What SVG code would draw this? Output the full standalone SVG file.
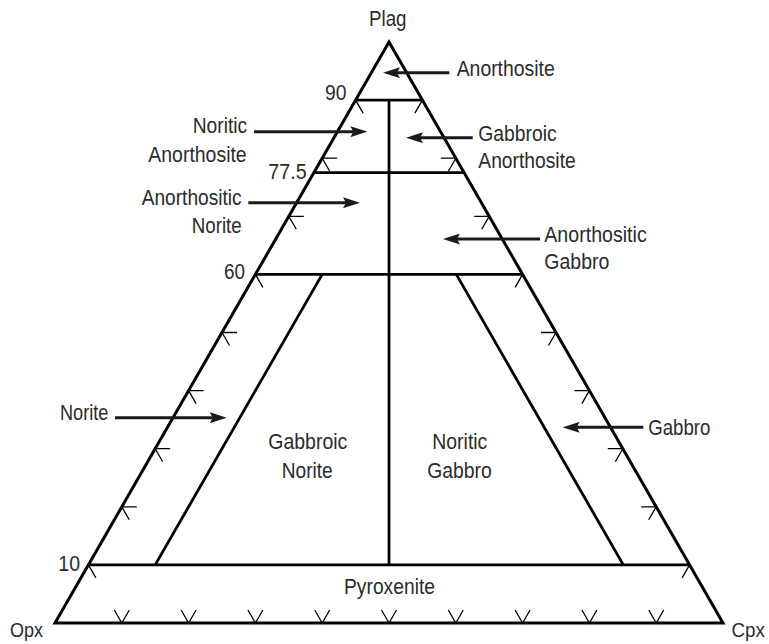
<svg xmlns="http://www.w3.org/2000/svg" width="769" height="644" viewBox="0 0 769 644">
<style>
.edge{fill:none;stroke:#000;stroke-width:3;stroke-linejoin:miter}
.bnd{fill:none;stroke:#000;stroke-width:2.8}
.tick{fill:none;stroke:#000;stroke-width:1.3}
.arr{fill:none;stroke:#1a1a1a;stroke-width:3}
text{font-family:"Liberation Sans",Arial,sans-serif;font-size:22px;fill:#2b2b2b}
.corner{font-size:21px}
</style>
<defs>
<marker id="ah" markerUnits="userSpaceOnUse" viewBox="0 0 17 11" markerWidth="17" markerHeight="11" refX="3" refY="5.5" orient="auto">
<path d="M0,0 L17,5.5 L0,11 L3,5.5 z" fill="#1a1a1a"/>
</marker>
</defs>
<rect width="769" height="644" fill="#fff"/>
<g id="triangle">
<path class="edge" d="M389,42 L723,623 L55,623 Z"/>
</g>
<g id="boundaries">
<line class="bnd" x1="355.6" y1="100.1" x2="422.4" y2="100.1"/>
<line class="bnd" x1="313.9" y1="172.7" x2="464.1" y2="172.7"/>
<line class="bnd" x1="255.4" y1="274.4" x2="522.6" y2="274.4"/>
<line class="bnd" x1="88.4" y1="564.9" x2="689.6" y2="564.9"/>
<line class="bnd" x1="389" y1="100.1" x2="389" y2="564.9"/>
<line class="bnd" x1="322.2" y1="274.4" x2="155.2" y2="564.9"/>
<line class="bnd" x1="456.3" y1="274.4" x2="623.3" y2="564.9"/>
</g>
<g id="ticks">
<path class="tick" d="M103.4,564.9 L88.4,564.9 L95.9,577.9 M136.8,506.8 L121.8,506.8 L129.3,519.8 M170.2,448.7 L155.2,448.7 L162.7,461.7 M203.6,390.6 L188.6,390.6 L196.1,403.6 M237,332.5 L222,332.5 L229.5,345.5 M270.4,274.4 L255.4,274.4 L262.9,287.4 M303.8,216.3 L288.8,216.3 L296.3,229.3 M337.2,158.2 L322.2,158.2 L329.7,171.2 M370.6,100.1 L355.6,100.1 L363.1,113.1"/>
<path class="tick" d="M674.6,564.9 L689.6,564.9 L682.1,577.9 M641.2,506.8 L656.2,506.8 L648.7,519.8 M607.8,448.7 L622.8,448.7 L615.3,461.7 M574.4,390.6 L589.4,390.6 L581.9,403.6 M541,332.5 L556,332.5 L548.5,345.5 M507.6,274.4 L522.6,274.4 L515.1,287.4 M474.2,216.3 L489.2,216.3 L481.7,229.3 M440.8,158.2 L455.8,158.2 L448.3,171.2 M407.4,100.1 L422.4,100.1 L414.9,113.1"/>
<path class="tick" d="M114.3,610 L121.8,623 L129.3,610 M181.1,610 L188.6,623 L196.1,610 M247.9,610 L255.4,623 L262.9,610 M314.7,610 L322.2,623 L329.7,610 M381.5,610 L389,623 L396.5,610 M448.3,610 L455.8,623 L463.3,610 M515.1,610 L522.6,623 L530.1,610 M581.9,610 L589.4,623 L596.9,610 M648.7,610 L656.2,623 L663.7,610"/>
</g>
<g id="connectors">
<path class="arr" d="M449.3,72.7 L397,72.7" marker-end="url(#ah)"/>
<path class="arr" d="M254,131.7 L353.3,131.7" marker-end="url(#ah)"/>
<path class="arr" d="M472.7,137.7 L420,137.7" marker-end="url(#ah)"/>
<path class="arr" d="M248.3,202.7 L346,202.7" marker-end="url(#ah)"/>
<path class="arr" d="M540,239 L457,239" marker-end="url(#ah)"/>
<path class="arr" d="M115,417.7 L212.7,417.7" marker-end="url(#ah)"/>
<path class="arr" d="M643.3,427.3 L576.7,427.3" marker-end="url(#ah)"/>
</g>
<g id="axis-labels">
<text x="369" y="26" textLength="37.5" lengthAdjust="spacingAndGlyphs">Plag</text>
<text class="corner" x="10" y="636.5" textLength="33" lengthAdjust="spacingAndGlyphs">Opx</text>
<text class="corner" x="731.5" y="636.5" textLength="33.4" lengthAdjust="spacingAndGlyphs">Cpx</text>
<text x="325" y="99.5" textLength="21.5" lengthAdjust="spacingAndGlyphs">90</text>
<text x="268.3" y="179" textLength="38.4" lengthAdjust="spacingAndGlyphs">77.5</text>
<text x="224" y="279.3" textLength="21" lengthAdjust="spacingAndGlyphs">60</text>
<text x="58.3" y="570.7" textLength="21.7" lengthAdjust="spacingAndGlyphs">10</text>
</g>
<g id="node-anorthosite">
<text x="456.7" y="76" textLength="98" lengthAdjust="spacingAndGlyphs">Anorthosite</text>
</g>
<g id="node-noritic-anorthosite">
<text x="192.7" y="132.5" textLength="54.5" lengthAdjust="spacingAndGlyphs">Noritic</text>
<text x="148.3" y="161.5" textLength="98.4" lengthAdjust="spacingAndGlyphs">Anorthosite</text>
</g>
<g id="node-gabbroic-anorthosite">
<text x="478.3" y="140.5" textLength="78.4" lengthAdjust="spacingAndGlyphs">Gabbroic</text>
<text x="478.3" y="168.3" textLength="97.4" lengthAdjust="spacingAndGlyphs">Anorthosite</text>
</g>
<g id="node-anorthositic-norite">
<text x="141.7" y="205" textLength="100" lengthAdjust="spacingAndGlyphs">Anorthositic</text>
<text x="191.7" y="232.5" textLength="50" lengthAdjust="spacingAndGlyphs">Norite</text>
</g>
<g id="node-anorthositic-gabbro">
<text x="544.3" y="242.3" textLength="102.4" lengthAdjust="spacingAndGlyphs">Anorthositic</text>
<text x="544.3" y="269.3" textLength="65" lengthAdjust="spacingAndGlyphs">Gabbro</text>
</g>
<g id="node-norite">
<text x="60" y="420" textLength="48.3" lengthAdjust="spacingAndGlyphs">Norite</text>
</g>
<g id="node-gabbro">
<text x="648.3" y="435" textLength="62" lengthAdjust="spacingAndGlyphs">Gabbro</text>
</g>
<g id="node-gabbroic-norite">
<text x="268.3" y="449.3" textLength="79" lengthAdjust="spacingAndGlyphs">Gabbroic</text>
<text x="281.7" y="477.7" textLength="51" lengthAdjust="spacingAndGlyphs">Norite</text>
</g>
<g id="node-noritic-gabbro">
<text x="432.3" y="449.3" textLength="55" lengthAdjust="spacingAndGlyphs">Noritic</text>
<text x="427.3" y="477.7" textLength="64.4" lengthAdjust="spacingAndGlyphs">Gabbro</text>
</g>
<g id="node-pyroxenite">
<text x="344" y="594.3" textLength="91" lengthAdjust="spacingAndGlyphs">Pyroxenite</text>
</g>
</svg>
